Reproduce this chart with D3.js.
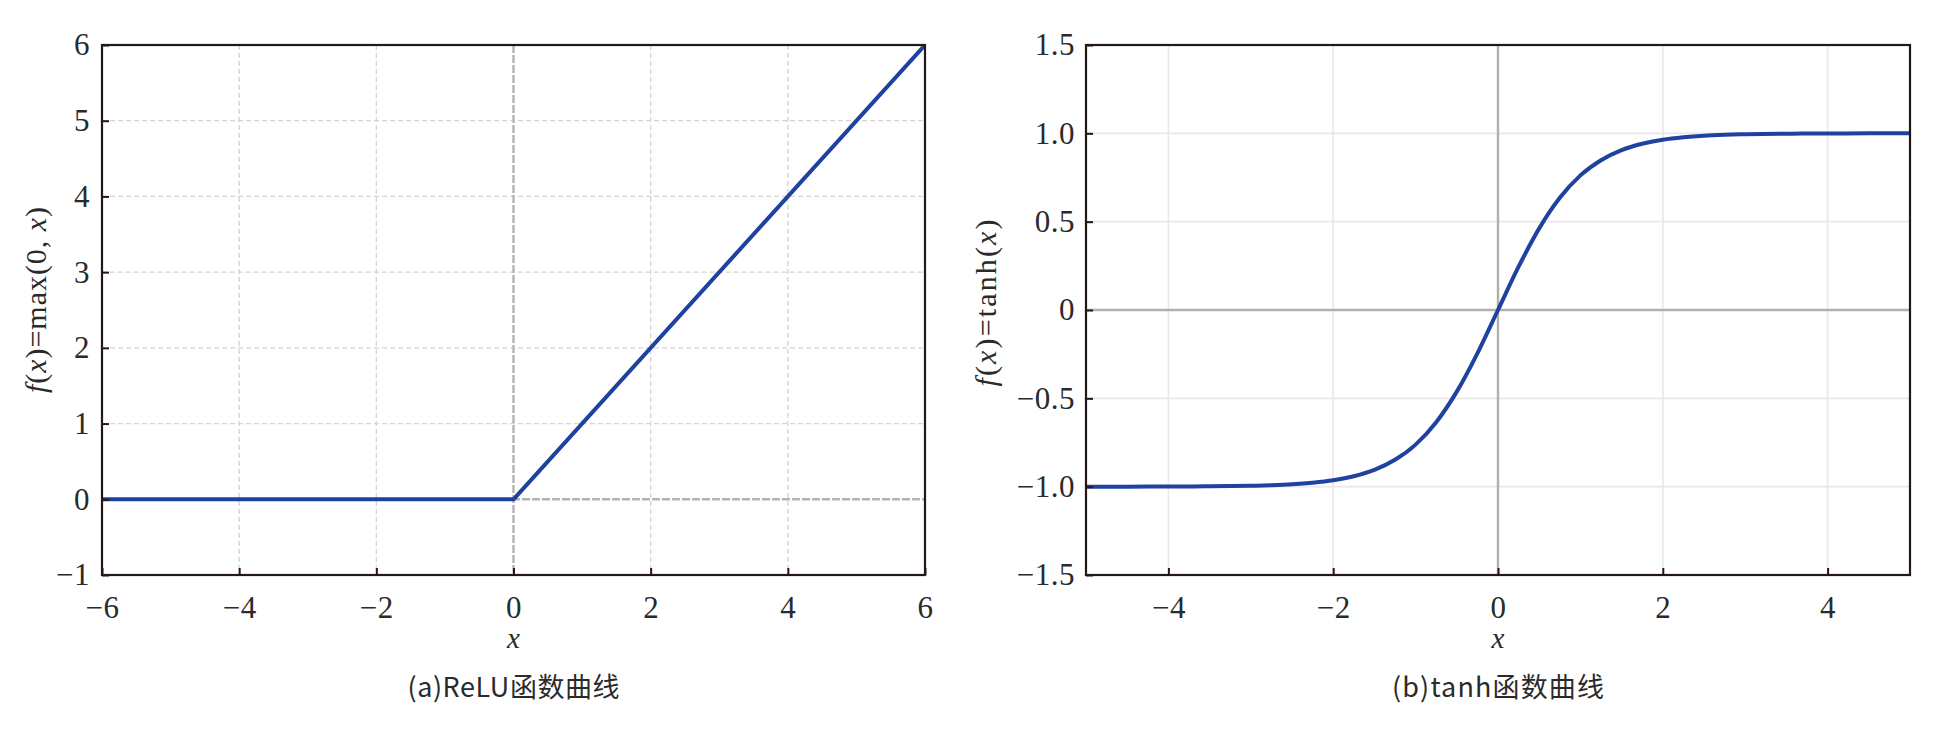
<!DOCTYPE html>
<html><head><meta charset="utf-8">
<script src="https://cdn.jsdelivr.net/npm/d3@7"></script>
<style>body{margin:0;background:#fff}svg{display:block}
.ser{font-family:"Liberation Serif","Times New Roman","DejaVu Serif",serif}
</style>
</head><body>
<svg id="c" width="1943" height="729"></svg>
<script>
// ---- data ----
const reluX = [-6, 0, 6];
const reluY = [0, 0, 6];
const tanhX = [-5,-4.5,-4,-3.5,-3,-2.75,-2.5,-2.25,-2,-1.75,-1.5,-1.25,-1,-0.75,-0.5,-0.25,0,0.25,0.5,0.75,1,1.25,1.5,1.75,2,2.25,2.5,2.75,3,3.5,4,4.5,5];
const tanhY = [-1.000,-1.000,-0.999,-0.998,-0.995,-0.992,-0.987,-0.978,-0.964,-0.941,-0.905,-0.848,-0.762,-0.635,-0.462,-0.245,0,0.245,0.462,0.635,0.762,0.848,0.905,0.941,0.964,0.978,0.987,0.992,0.995,0.998,0.999,1.000,1.000];
const reluXTicks = [-6,-4,-2,0,2,4,6];
const reluXTickLabels = ["−6","−4","−2","0","2","4","6"];
const reluYTicks = [-1,0,1,2,3,4,5,6];
const reluYTickLabels = ["−1","0","1","2","3","4","5","6"];
const tanhXTicks = [-4,-2,0,2,4];
const tanhXTickLabels = ["−4","−2","0","2","4"];
const tanhYTicks = [-1.5,-1,-0.5,0,0.5,1,1.5];
const tanhYTickLabels = ["−1.5","−1.0","−0.5","0","0.5","1.0","1.5"];
const captions = ["(a)ReLU函数曲线", "(b)tanh函数曲线"];

const svg = d3.select("#c");
const cjk = "'Noto Sans CJK SC','Noto Sans',sans-serif";
const frameColor = "#231815";
const textColor = "#2a2a2a";
const lineColor = "#1f41a0";

function panel(o) {
  const g = svg.append("g");
  const x = d3.scaleLinear().domain(o.xd).range([o.left, o.right]);
  const y = d3.scaleLinear().domain(o.yd).range([o.bottom, o.top]);
  const clipId = "clip" + o.id;
  svg.append("defs").append("clipPath").attr("id", clipId)
    .append("rect").attr("x", o.left).attr("y", o.top)
    .attr("width", o.right - o.left).attr("height", o.bottom - o.top);

  // grid
  const grid = g.append("g");
  o.xt.filter(v => v !== 0).forEach(v => grid.append("line")
    .attr("x1", x(v)).attr("x2", x(v)).attr("y1", o.top).attr("y2", o.bottom)
    .attr("stroke", o.gridColor).attr("stroke-width", o.gridW).attr("stroke-dasharray", o.dash));
  o.yt.filter(v => v !== 0).forEach(v => grid.append("line")
    .attr("y1", y(v)).attr("y2", y(v)).attr("x1", o.left).attr("x2", o.right)
    .attr("stroke", o.gridColor).attr("stroke-width", o.gridW).attr("stroke-dasharray", o.dash));
  // zero lines
  grid.append("line").attr("x1", x(0)).attr("x2", x(0)).attr("y1", o.top).attr("y2", o.bottom)
    .attr("stroke", o.zeroColor).attr("stroke-width", 2.4).attr("stroke-dasharray", o.zdash);
  grid.append("line").attr("y1", y(0)).attr("y2", y(0)).attr("x1", o.left).attr("x2", o.right)
    .attr("stroke", o.zeroColor).attr("stroke-width", 2.4).attr("stroke-dasharray", o.zdash);

  // curve
  const pts = o.xs.map((v, i) => [v, o.ys[i]]);
  g.append("path").datum(pts)
    .attr("clip-path", `url(#${clipId})`)
    .attr("d", d3.line().x(d => x(d[0])).y(d => y(d[1])).curve(o.curve))
    .attr("fill", "none").attr("stroke", lineColor).attr("stroke-width", 4)
    .attr("stroke-linejoin", "round");

  // axes (inward ticks)
  const xa = g.append("g").attr("transform", `translate(0,${o.bottom})`)
    .call(d3.axisBottom(x).tickValues(o.xt).tickSizeInner(-7).tickSizeOuter(0)
      .tickFormat((d, i) => o.xtl[i]).tickPadding(21));
  const ya = g.append("g").attr("transform", `translate(${o.left},0)`)
    .call(d3.axisLeft(y).tickValues(o.yt).tickSizeInner(-7).tickSizeOuter(0)
      .tickFormat((d, i) => o.ytl[i]).tickPadding(o.ypad));
  [xa, ya].forEach(a => {
    a.attr("font-family", null).attr("font-size", null);
    a.select(".domain").remove();
    a.selectAll(".tick line").attr("stroke", frameColor).attr("stroke-width", 2);
    a.selectAll(".tick text").attr("class", "ser").attr("fill", textColor)
      .style("font-size", "31px").style("letter-spacing", "0.5px");
  });
  // frame
  g.append("rect").attr("x", o.left).attr("y", o.top)
    .attr("width", o.right - o.left).attr("height", o.bottom - o.top)
    .attr("fill", "none").attr("stroke", frameColor).attr("stroke-width", 2.2);

  // x label
  g.append("text").attr("class", "ser").attr("x", (o.left + o.right) / 2).attr("y", 648)
    .attr("text-anchor", "middle").style("font-style", "italic")
    .style("font-size", "29px").attr("fill", textColor).text("x");
  // y label
  const yl = g.append("text").attr("class", "ser").attr("transform", `translate(${o.ylx},${o.yly}) rotate(-90)`)
    .attr("text-anchor", "middle").style("font-size", "30px")
    .attr("textLength", o.ylen).attr("lengthAdjust", "spacing").attr("fill", textColor);
  o.ylabel.forEach(p => yl.append("tspan").style("font-style", p[1] ? "italic" : "normal").text(p[0]));
  // caption
  g.append("text").attr("x", (o.left + o.right) / 2).attr("y", 697)
    .attr("text-anchor", "middle").style("font-family", cjk).style("font-size", "27px")
    .attr("textLength", o.clen).attr("lengthAdjust", "spacing")
    .attr("fill", textColor).text(o.caption);
}

panel({id: 1, left: 102, right: 925, top: 45, bottom: 575,
  xd: [-6, 6], yd: [-1, 6], xt: reluXTicks, xtl: reluXTickLabels, yt: reluYTicks, ytl: reluYTickLabels,
  gridColor: "#d4d4d4", gridW: 1.3, dash: "5,3", zeroColor: "#b4b4b4", zdash: "8,2",
  xs: reluX, ys: reluY, curve: d3.curveLinear,
  ylx: 46, yly: 300, ylen: 186, clen: 212, ypad: 12,
  ylabel: [["f", true], ["(", false], ["x", true], [")=max(0, ", false], ["x", true], [")", false]],
  caption: captions[0]});

panel({id: 2, left: 1086, right: 1910, top: 45, bottom: 575,
  xd: [-5, 5], yd: [-1.5, 1.5], xt: tanhXTicks, xtl: tanhXTickLabels, yt: tanhYTicks, ytl: tanhYTickLabels,
  gridColor: "#e8e8e8", gridW: 1.6, dash: null, zeroColor: "#b0b0b0", zdash: null,
  xs: tanhX, ys: tanhY, curve: d3.curveMonotoneX,
  ylx: 996, yly: 303, ylen: 167, clen: 212, ypad: 11,
  ylabel: [["f", true], ["(", false], ["x", true], [")=tanh(", false], ["x", true], [")", false]],
  caption: captions[1]});
</script>
</body></html>
